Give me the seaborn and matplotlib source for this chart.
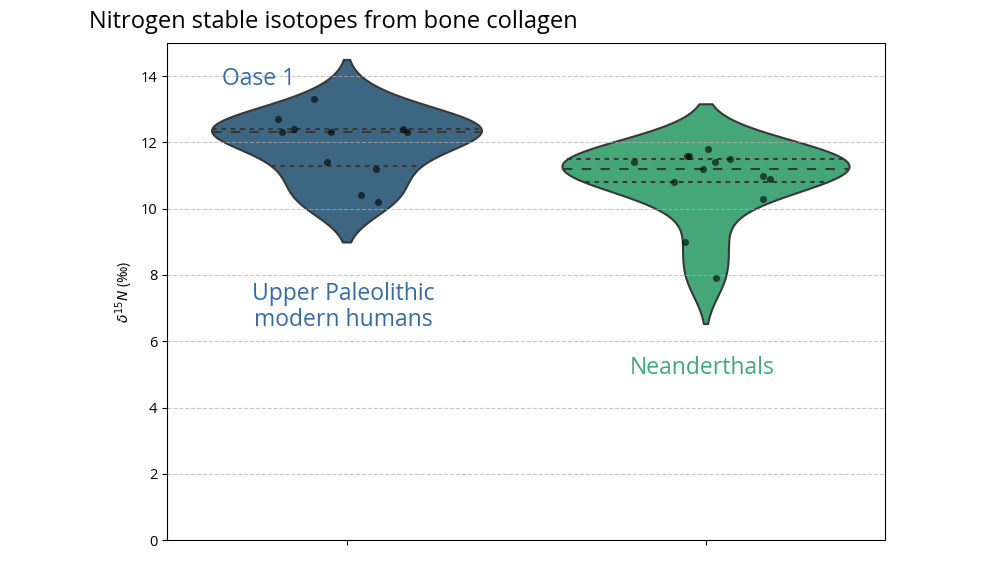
import numpy as np
import pandas as pd
import matplotlib
matplotlib.use("Agg")
import matplotlib.pyplot as plt
import seaborn as sns

plt.rcParams['font.family'] = ['Open Sans', 'DejaVu Sans']

groups = ['Upper Paleolithic modern humans', 'Neanderthals']
upm_values = [12.7, 12.3, 12.4, 13.3, 12.3, 11.4, 12.4, 12.3, 11.2, 10.4, 10.2]
upm_jitter = [-0.19, -0.18, -0.146, -0.091, -0.044, -0.055, 0.156, 0.168, 0.083, 0.04, 0.087]
nea_values = [11.4, 11.6, 11.6, 11.8, 11.4, 11.5, 11.2, 10.8, 11.0, 10.9, 10.3, 9.0, 7.9]
nea_jitter = [-0.198, -0.051, -0.045, 0.006, 0.026, 0.068, -0.007, -0.088, 0.159, 0.18, 0.159, -0.057, 0.029]

df = pd.DataFrame({
    'group': [groups[0]] * len(upm_values) + [groups[1]] * len(nea_values),
    'd15N': upm_values + nea_values,
    'jitter': upm_jitter + nea_jitter,
})
df['xpos'] = df['group'].map({g: i for i, g in enumerate(groups)}) + df['jitter']

palette = sns.color_palette('viridis', 2)
text_colors = ['#3a6b9c', '#46a779']

fig = plt.figure(figsize=(10, 5.62), dpi=100)
ax = fig.add_axes([0.167, 0.039, 0.718, 0.8845])

sns.violinplot(data=df, x='group', y='d15N', hue='group', order=groups, hue_order=groups,
               palette=palette, inner='quart', linewidth=1.5, linecolor='#383838',
               common_norm=True, legend=False, ax=ax)

# quartile lines: short dashes for 25/75, longer dashes for the median
for i, line in enumerate(ax.lines):
    if i % 3 == 1:
        line.set_dashes([4.5, 4.5])
    else:
        line.set_dashes([2.25, 2.25])

ax.scatter(df['xpos'], df['d15N'], s=26, color='black', alpha=0.6, zorder=3, linewidths=0)

ax.set_ylim(0, 15)
ax.set_xlim(-0.5, 1.5)
ax.set_xticklabels([])
ax.set_xlabel('')
ax.set_ylabel(r'$\delta^{15}N$ (‰)', fontsize=10)
ax.tick_params(axis='y', labelsize=10.5)
ax.grid(axis='y', linestyle='--', alpha=0.7)

ax.text(-0.246, 13.9, 'Oase 1', color=text_colors[0], fontsize=16.5, ha='center', va='center')
ax.text(-0.01, 7.03, 'Upper Paleolithic\nmodern humans', color=text_colors[0], fontsize=16.5,
        ha='center', va='center', linespacing=1.12)
ax.text(0.99, 5.19, 'Neanderthals', color=text_colors[1], fontsize=16.5, ha='center', va='center')

fig.text(0.089, 0.961, 'Nitrogen stable isotopes from bone collagen', fontsize=17,
         ha='left', va='center')

fig.savefig('out.png', dpi=100)
